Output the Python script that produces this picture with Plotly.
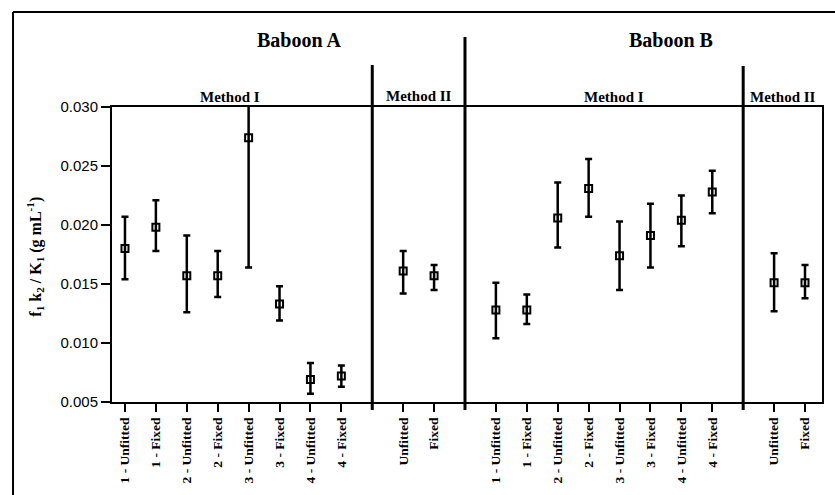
import plotly.graph_objects as go

# ---- data ----
method1_labels = ["1 - Unfitted", "1 - Fixed", "2 - Unfitted", "2 - Fixed",
                  "3 - Unfitted", "3 - Fixed", "4 - Unfitted", "4 - Fixed"]
method2_labels = ["Unfitted", "Fixed"]

a_m1_val = [0.0180, 0.0198, 0.0157, 0.0157, 0.0274, 0.0133, 0.0069, 0.0072]
a_m1_hi = [0.0207, 0.0221, 0.0191, 0.0178, 0.0384, 0.0148, 0.0083, 0.0081]
a_m1_lo = [0.0154, 0.0178, 0.0126, 0.0139, 0.0164, 0.0119, 0.0057, 0.0063]

a_m2_val = [0.0161, 0.0157]
a_m2_hi = [0.0178, 0.0166]
a_m2_lo = [0.0142, 0.0145]

b_m1_val = [0.0128, 0.0128, 0.0206, 0.0231, 0.0174, 0.0191, 0.0204, 0.0228]
b_m1_hi = [0.0151, 0.0141, 0.0236, 0.0256, 0.0203, 0.0218, 0.0225, 0.0246]
b_m1_lo = [0.0104, 0.0116, 0.0181, 0.0207, 0.0145, 0.0164, 0.0182, 0.0210]

b_m2_val = [0.0151, 0.0151]
b_m2_hi = [0.0176, 0.0166]
b_m2_lo = [0.0127, 0.0138]

y_ticks = [0.005, 0.010, 0.015, 0.020, 0.025, 0.030]

# ---- layout of groups on a continuous x axis ----
groups = [
    (1, method1_labels, a_m1_val, a_m1_hi, a_m1_lo),
    (10, method2_labels, a_m2_val, a_m2_hi, a_m2_lo),
    (13, method1_labels, b_m1_val, b_m1_hi, b_m1_lo),
    (22, method2_labels, b_m2_val, b_m2_hi, b_m2_lo),
]
separators = [(9, 1.142), (12, 1.237), (21, 1.139)]

fig = go.Figure()
tickvals, ticktext = [], []
for start, labels, val, hi, lo in groups:
    xs = [start + i for i in range(len(val))]
    tickvals += xs
    ticktext += ["<b>%s</b>" % t for t in labels]
    fig.add_trace(go.Scatter(
        x=xs, y=val, mode="markers",
        marker=dict(symbol="square-open", size=7, color="black",
                    line=dict(width=2, color="black")),
        error_y=dict(type="data", symmetric=False,
                     array=[h - v for h, v in zip(hi, val)],
                     arrayminus=[v - l for v, l in zip(val, lo)],
                     color="black", thickness=2.5, width=3.5),
        showlegend=False, hoverinfo="skip"))

serif = "Liberation Serif"
shapes = []
for sx, top in separators:
    shapes.append(dict(type="line", xref="x", yref="paper", x0=sx, x1=sx,
                       y0=-0.027, y1=top, line=dict(color="black", width=3)))
# outer frame (left and top edges)
shapes.append(dict(type="line", xref="paper", yref="paper",
                   x0=-0.1394, x1=1.02, y0=1.322, y1=1.322,
                   line=dict(color="black", width=2)))
shapes.append(dict(type="line", xref="paper", yref="paper",
                   x0=-0.1394, x1=-0.1394, y0=-0.32, y1=1.322,
                   line=dict(color="black", width=2)))

annotations = [
    dict(text="<b>Baboon A</b>", x=0.2634, y=1.227, font=dict(size=20)),
    dict(text="<b>Baboon B</b>", x=0.787, y=1.227, font=dict(size=20)),
    dict(text="<b>Method I</b>", x=0.166, y=1.034, font=dict(size=15)),
    dict(text="<b>Method II</b>", x=0.4324, y=1.037, font=dict(size=15)),
    dict(text="<b>Method I</b>", x=0.707, y=1.034, font=dict(size=15)),
    dict(text="<b>Method II</b>", x=0.945, y=1.034, font=dict(size=15)),
    dict(text="<b>f<sub>1</sub> k<sub>2</sub> / K<sub>1</sub> (g mL<sup>-1</sup>)</b>",
         x=-0.1085, y=0.4925, textangle=-90, font=dict(size=16)),
]
for a in annotations:
    a.update(xref="paper", yref="paper", xanchor="center", yanchor="middle",
             showarrow=False)
    a["font"].update(family=serif, color="black")

fig.update_layout(
    width=835, height=495,
    margin=dict(l=112, r=13, t=107, b=93, autoexpand=False),
    paper_bgcolor="white", plot_bgcolor="white",
    shapes=shapes, annotations=annotations,
    xaxis=dict(range=[0.58, 23.55], tickvals=tickvals, ticktext=ticktext,
               tickangle=-90, ticks="outside", ticklen=8, tickwidth=2,
               tickcolor="black", showline=True, mirror=True, linewidth=2,
               linecolor="black", showgrid=False, zeroline=False,
               automargin=False,
               tickfont=dict(family=serif, size=13.5, color="black")),
    yaxis=dict(range=[0.005, 0.030], tickvals=y_ticks, tickformat=".3f",
               ticks="outside", ticklen=9, tickwidth=2, tickcolor="black",
               showline=True, mirror=True, linewidth=2, linecolor="black",
               showgrid=False, zeroline=False, automargin=False,
               tickfont=dict(family="Liberation Sans", size=15, color="black")),
)

fig.write_html("out.html")
